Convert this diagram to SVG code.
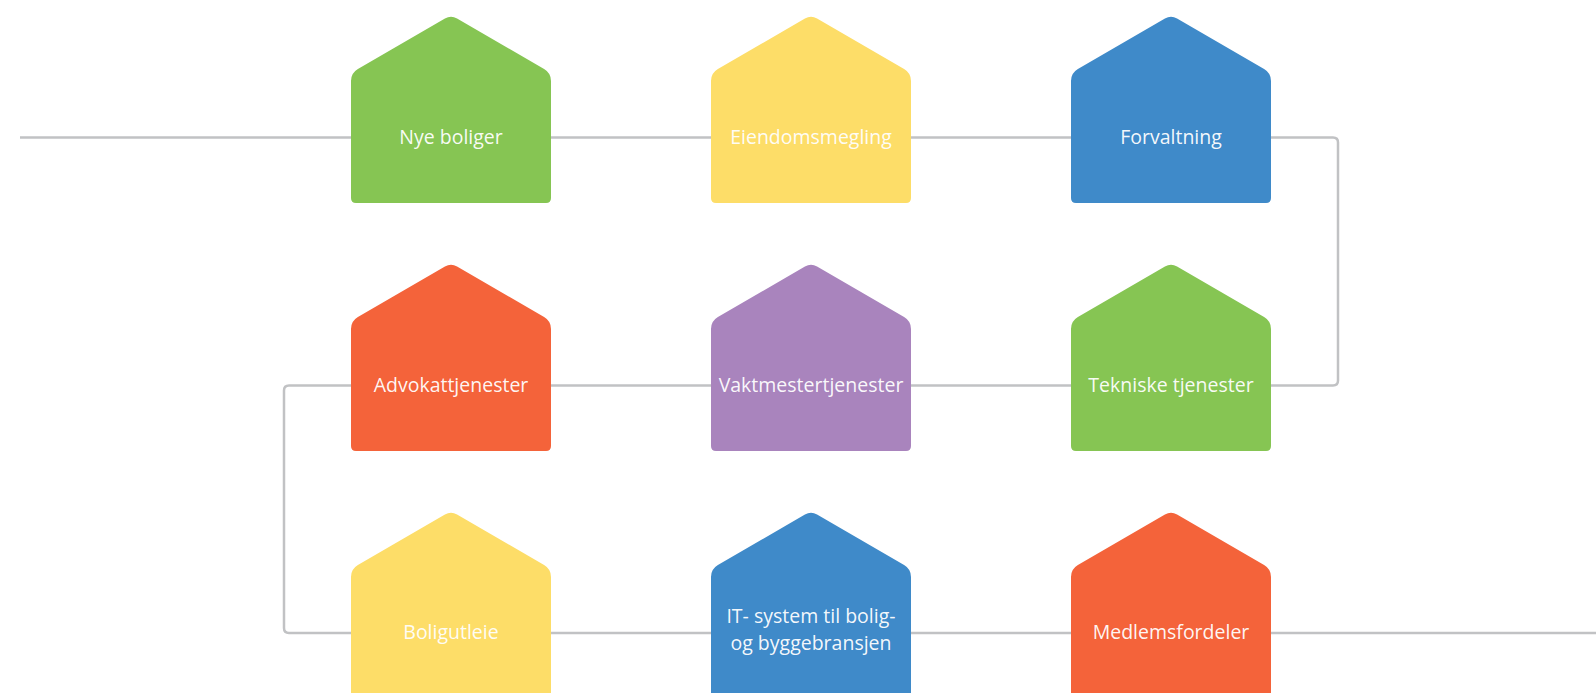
<svg xmlns="http://www.w3.org/2000/svg" width="1596" height="693" viewBox="0 0 1596 693">
  <style>
    .wire { fill: none; stroke: #c1c2c4; stroke-width: 2.5; }
    .label { font-family: "Open Sans", "Noto Sans", "Liberation Sans", sans-serif; font-size: 19.5px; fill: #ffffff; fill-opacity: 0.95; text-anchor: middle; }
    .green { fill: #86c553; }
    .yellow { fill: #fddd68; }
    .blue { fill: #3f8ac9; }
    .orange { fill: #f4633a; }
    .purple { fill: #a984bd; }
  </style>
  <defs>
    <!-- house silhouette, 200 wide, peak at y=0 -->
    <path id="house" d="M0,66 Q0,58 6.9,54 L93.94,3.5 Q100,0 106.06,3.5 L193.1,54 Q200,58 200,66 L200,183 Q200,188 195,188 L5,188 Q0,188 0,183 Z"/>
  </defs>

  <g id="connectors">
    <path class="wire" d="M20,137.5 H351"/>
    <path class="wire" d="M551,137.5 H711"/>
    <path class="wire" d="M911,137.5 H1071"/>
    <path class="wire" d="M1271,137.5 H1333 Q1338,137.5 1338,142.5 V380.5 Q1338,385.5 1333,385.5 H1271"/>
    <path class="wire" d="M1071,385.5 H911"/>
    <path class="wire" d="M711,385.5 H551"/>
    <path class="wire" d="M351,385.5 H289 Q284,385.5 284,390.5 V628 Q284,633 289,633 H351"/>
    <path class="wire" d="M551,633 H711"/>
    <path class="wire" d="M911,633 H1071"/>
    <path class="wire" d="M1271,633 H1596"/>
  </g>

  <g id="nye-boliger" transform="translate(351,15)">
    <use href="#house" class="green"/>
    <text class="label" x="100" y="128.5">Nye boliger</text>
  </g>
  <g id="eiendomsmegling" transform="translate(711,15)">
    <use href="#house" class="yellow"/>
    <text class="label" x="100" y="128.5">Eiendomsmegling</text>
  </g>
  <g id="forvaltning" transform="translate(1071,15)">
    <use href="#house" class="blue"/>
    <text class="label" x="100" y="128.5">Forvaltning</text>
  </g>

  <g id="advokattjenester" transform="translate(351,263)">
    <use href="#house" class="orange"/>
    <text class="label" x="100" y="128.5">Advokattjenester</text>
  </g>
  <g id="vaktmestertjenester" transform="translate(711,263)">
    <use href="#house" class="purple"/>
    <text class="label" x="100" y="128.5">Vaktmestertjenester</text>
  </g>
  <g id="tekniske-tjenester" transform="translate(1071,263)">
    <use href="#house" class="green"/>
    <text class="label" x="100" y="128.5">Tekniske tjenester</text>
  </g>

  <g id="boligutleie" transform="translate(351,511)">
    <use href="#house" class="yellow"/>
    <text class="label" x="100" y="128">Boligutleie</text>
  </g>
  <g id="it-system" transform="translate(711,511)">
    <use href="#house" class="blue"/>
    <text class="label" x="100" y="112">IT- system til bolig-</text>
    <text class="label" x="100" y="139">og byggebransjen</text>
  </g>
  <g id="medlemsfordeler" transform="translate(1071,511)">
    <use href="#house" class="orange"/>
    <text class="label" x="100" y="128">Medlemsfordeler</text>
  </g>
</svg>
